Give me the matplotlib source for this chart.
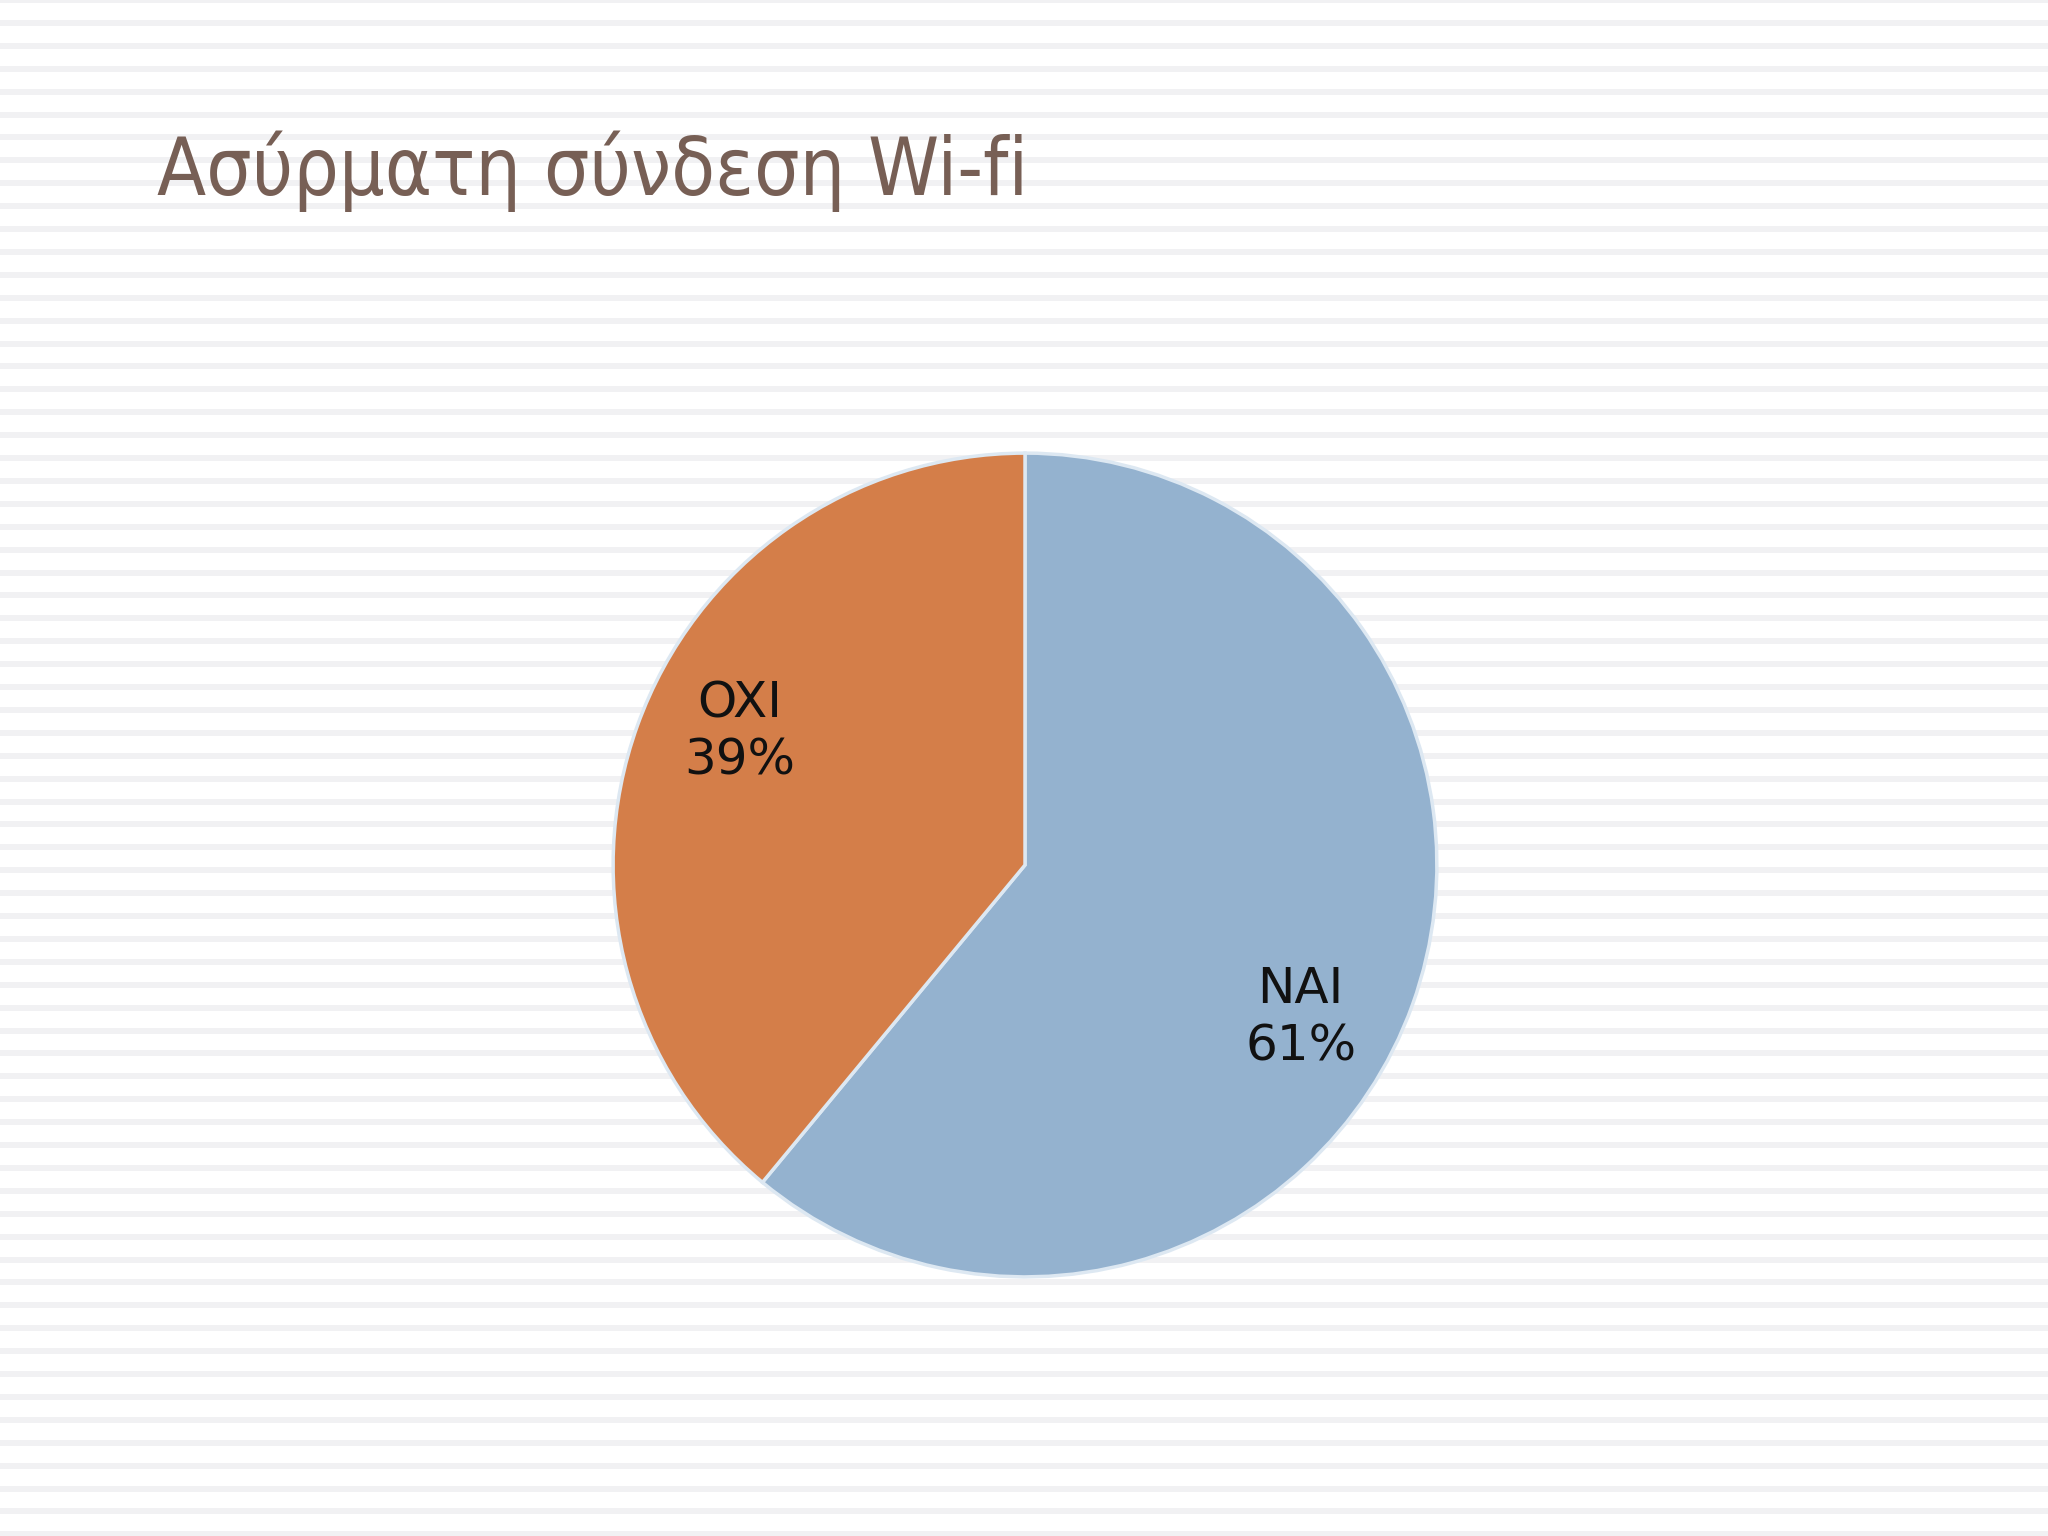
# Wi-fi pie chart (Greek slide)
import numpy as np
import matplotlib.pyplot as plt

labels = ['NAI', 'OXI']
values = [61, 39]
colors = ['#94B2CF', '#D47E49']
title = 'Ασύρματη σύνδεση Wi-fi'

W, H = 2048, 1536
fig = plt.figure(figsize=(W / 100, H / 100), dpi=100)
fig.patch.set_facecolor('white')

# striped slide background
bg = fig.add_axes([0, 0, 1, 1])
bg.set_xlim(0, W)
bg.set_ylim(H, 0)
bg.axis('off')
for y in np.arange(0, H + 23, 22.9):
    bg.axhspan(y - 3, y + 3, color='#F1F1F3', lw=0)

fig.text(157 / W, 1 - 195 / H, title, fontsize=57.5, color='#775F55',
         family='DejaVu Sans', fontstretch='condensed', va='baseline', ha='left')

# pie: centre (1025, 865) px, radius 416 px
cx, cy, r = 1025, 865, 416
ax = fig.add_axes([(cx - r) / W, (H - cy - r) / H, 2 * r / W, 2 * r / H])
wedges, texts = ax.pie(values, colors=colors, startangle=90, counterclock=False,
                       labels=[f'{l}\n{v}%' for l, v in zip(labels, values)],
                       labeldistance=0.765,
                       wedgeprops=dict(edgecolor='#DDE8F2', linewidth=2.5),
                       textprops=dict(fontsize=36, color='#111111', ha='center',
                                      va='center', linespacing=1.25))
ax.set_xlim(-1.01, 1.01)
ax.set_ylim(-1.01, 1.01)
for w in wedges:
    w.set_clip_on(False)

# nudge label angles to match the slide
for t, ang in zip(texts, [-29, 155]):
    d = np.hypot(*t.get_position())
    a = np.deg2rad(ang)
    t.set_position((d * np.cos(a), d * np.sin(a)))

fig.savefig('out.png', dpi=100)
